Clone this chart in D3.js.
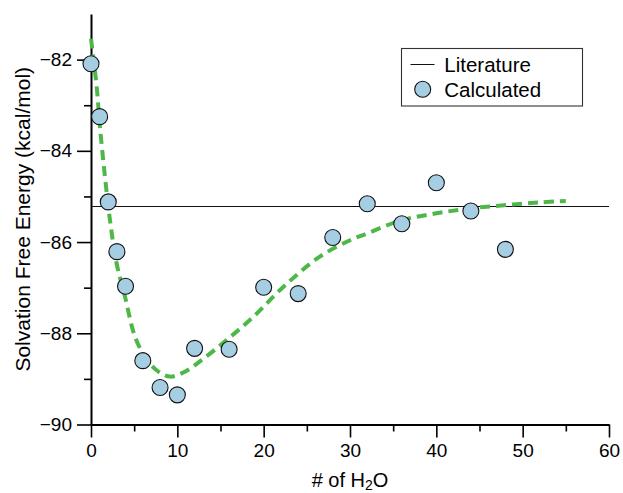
<!DOCTYPE html>
<html>
<head>
<meta charset="utf-8">
<script src="https://cdn.jsdelivr.net/npm/d3@7"></script>
<style>
  html, body { margin: 0; padding: 0; background: #fff; }
  svg { display: block; font-family: "Liberation Sans", Arial, Helvetica, sans-serif; }
</style>
</head>
<body>
<svg id="chart" width="623" height="493"></svg>
<script>
// ---- data ----
const waterCounts = [0, 1, 2, 3, 4, 6, 8, 10, 12, 16, 20, 24, 28, 32, 36, 40, 44, 48];
const calculated = [-82.09, -83.25, -85.12, -86.21, -86.97, -88.60, -89.19, -89.35, -88.33, -88.35,
                    -86.99, -87.13, -85.90, -85.16, -85.60, -84.70, -85.32, -86.16];
const literatureValue = -85.21;
const fitX = [0, 0.66, 1.04, 1.62, 2.2, 2.97, 3.94, 5.1, 6.25, 7.6, 9.15, 10.9, 12.8, 15.7, 18.8,
              22.3, 26.5, 30, 32, 36, 40, 44, 48, 52, 55];
const fitY = [-81.54, -82.6, -83.48, -84.57, -85.52, -86.47, -87.2, -88.08, -88.51, -88.81, -88.95,
              -88.84, -88.59, -88.15, -87.64, -86.98, -86.32, -85.96, -85.81, -85.52, -85.37,
              -85.26, -85.19, -85.13, -85.10];
const xMajorTicks = [0, 10, 20, 30, 40, 50, 60];
const xMinorTicks = [5, 15, 25, 35, 45, 55];
const yMajorTicks = [-90, -88, -86, -84, -82];
const yMinorTicks = [-89, -87, -85, -83];
const legendLabels = ["Literature", "Calculated"];

// ---- layout ----
const svg = d3.select("#chart");
const x = d3.scaleLinear().domain([0, 60]).range([91, 609]);
const y = d3.scaleLinear().domain([-90, -81]).range([424.5, 14]);

const fmt = d => d < 0 ? "\u2212" + Math.abs(d) : String(d);

// x axis
const xAxisG = svg.append("g").attr("transform", `translate(0,${y(-90)})`);
xAxisG.call(d3.axisBottom(x).tickValues(xMajorTicks).tickSize(13).tickPadding(6).tickFormat(fmt).tickSizeOuter(0));
xAxisG.append("g").call(d3.axisBottom(x).tickValues(xMinorTicks).tickSize(7).tickFormat("").tickSizeOuter(0))
  .select(".domain").remove();
xAxisG.selectAll("text").attr("font-size", 19).attr("fill", "#000").attr("font-family", "Liberation Sans, Arial, sans-serif");
xAxisG.selectAll("line").attr("stroke", "#000").attr("stroke-width", 1.6);
xAxisG.select(".domain").attr("stroke", "#000").attr("stroke-width", 2);

// y axis
const yAxisG = svg.append("g").attr("transform", `translate(${x(0)},0)`);
yAxisG.call(d3.axisLeft(y).tickValues(yMajorTicks).tickSize(14).tickPadding(5).tickFormat(fmt).tickSizeOuter(0));
yAxisG.append("g").call(d3.axisLeft(y).tickValues(yMinorTicks).tickSize(7).tickFormat("").tickSizeOuter(0))
  .select(".domain").remove();
yAxisG.selectAll("text").attr("font-size", 19).attr("fill", "#000").attr("font-family", "Liberation Sans, Arial, sans-serif");
yAxisG.selectAll("line").attr("stroke", "#000").attr("stroke-width", 1.6);
yAxisG.select(".domain").attr("stroke", "#000").attr("stroke-width", 2);

// literature line
svg.append("line")
  .attr("x1", x(0)).attr("x2", x(60))
  .attr("y1", Math.round(y(literatureValue)) + 0.5).attr("y2", Math.round(y(literatureValue)) + 0.5)
  .attr("stroke", "#111").attr("stroke-width", 1);

// fitted dashed curve
const fitData = fitX.map((v, i) => [v, fitY[i]]);
svg.append("path")
  .datum(fitData)
  .attr("fill", "none")
  .attr("stroke", "#4db848")
  .attr("stroke-width", 4)
  .attr("stroke-dasharray", "10,6")
  .attr("d", d3.line().x(d => x(d[0])).y(d => y(d[1])).curve(d3.curveCatmullRom.alpha(0.5)));

// calculated points
svg.append("g").selectAll("circle")
  .data(waterCounts.map((v, i) => [v, calculated[i]]))
  .join("circle")
  .attr("cx", d => x(d[0])).attr("cy", d => y(d[1]))
  .attr("r", 8)
  .attr("fill", "#a6cee3")
  .attr("stroke", "#111")
  .attr("stroke-width", 1.1);

// axis titles
svg.append("text")
  .attr("x", x(30)).attr("y", 487)
  .attr("text-anchor", "middle")
  .attr("font-size", 20)
  .attr("fill", "#000")
  .html('# of H<tspan font-size="14" dy="3">2</tspan><tspan dy="-3">O</tspan>');

svg.append("text")
  .attr("transform", `translate(29.5,${(y(-90) + y(-81)) / 2}) rotate(-90)`)
  .attr("text-anchor", "middle")
  .attr("font-size", 21)
  .attr("fill", "#000")
  .text("Solvation Free Energy (kcal/mol)");

// legend
const lg = svg.append("g");
lg.append("rect").attr("x", 401.5).attr("y", 48.5).attr("width", 181).attr("height", 57.5)
  .attr("fill", "#fff").attr("stroke", "#333").attr("stroke-width", 1.1);
lg.append("line").attr("x1", 410.5).attr("x2", 434.5).attr("y1", 64.5).attr("y2", 64.5)
  .attr("stroke", "#111").attr("stroke-width", 1);
lg.append("circle").attr("cx", 422.7).attr("cy", 89.3).attr("r", 8)
  .attr("fill", "#a6cee3").attr("stroke", "#111").attr("stroke-width", 1.1);
lg.selectAll("text.lbl").data(legendLabels).join("text")
  .attr("class", "lbl")
  .attr("x", 444.3).attr("y", (d, i) => 71.7 + i * 25)
  .attr("font-size", 20.5).attr("fill", "#000")
  .text(d => d);
</script>
</body>
</html>
